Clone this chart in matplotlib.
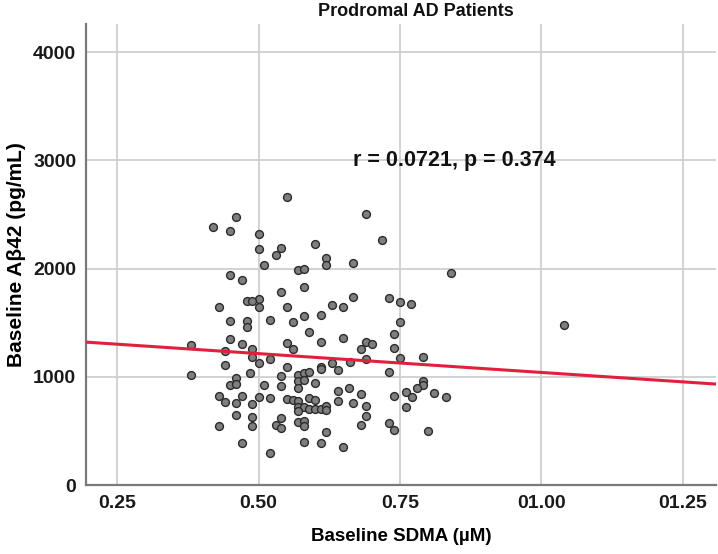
import matplotlib
matplotlib.use("Agg")
import matplotlib.pyplot as plt
import numpy as np

plt.rcParams["font.family"] = ["Liberation Sans", "DejaVu Sans"]

# Baseline SDMA (uM) vs baseline Abeta42 (pg/mL)
sdma = [
    0.420, 0.450, 0.460, 0.500, 0.500, 0.510, 0.530, 0.540, 0.550, 0.600,
    0.570, 0.580, 0.620, 0.620, 0.667, 0.450, 0.470, 0.690, 0.719, 0.840,
    0.430, 0.479, 0.540, 0.580, 0.500, 0.489, 0.500, 0.550, 0.630, 0.650,
    0.667, 0.731, 0.750, 0.769, 0.450, 0.479, 0.479, 0.450, 0.470, 0.380,
    0.441, 0.441, 0.380, 0.460, 0.450, 0.460, 0.430, 0.441, 0.460, 0.470,
    0.460, 0.430, 0.470, 0.485, 0.489, 0.489, 0.489, 0.520, 0.560, 0.580,
    0.610, 0.590, 0.610, 0.650, 0.550, 0.560, 0.489, 0.489, 0.500, 0.520,
    0.550, 0.540, 0.570, 0.580, 0.590, 0.610, 0.610, 0.630, 0.641, 0.662,
    0.570, 0.580, 0.600, 0.540, 0.510, 0.570, 0.640, 0.660, 0.500, 0.520,
    0.550, 0.560, 0.570, 0.590, 0.600, 0.640, 0.667, 0.570, 0.580, 0.590,
    0.600, 0.610, 0.620, 0.620, 0.570, 0.540, 0.530, 0.540, 0.570, 0.580,
    0.580, 0.620, 0.580, 0.610, 0.650, 0.520, 0.750, 0.740, 0.690, 0.701,
    0.681, 0.740, 0.690, 0.750, 0.790, 0.731, 0.790, 0.790, 0.780, 0.761,
    0.771, 0.740, 0.810, 0.831, 0.681, 0.690, 0.761, 0.690, 0.681, 0.731,
    0.740, 0.800, 1.040,
]
abeta42 = [
    2380, 2350, 2480, 2320, 2185, 2035, 2123, 2190, 2660, 2222,
    1984, 1994, 2095, 2031, 2052, 1936, 1892, 2501, 2261, 1957,
    1646, 1698, 1784, 1828, 1723, 1701, 1646, 1646, 1661, 1646,
    1738, 1729, 1692, 1671, 1511, 1517, 1461, 1350, 1299, 1292,
    1240, 1108, 1018, 990, 920, 932, 824, 763, 757, 819,
    649, 547, 390, 1037, 748, 630, 545, 1529, 1507, 1566,
    1572, 1415, 1323, 1354, 1308, 1258, 1253, 1179, 1129, 1166,
    1086, 1006, 1015, 1031, 1043, 1092, 1068, 1129, 1061, 1138,
    963, 969, 939, 914, 920, 893, 870, 893, 815, 806,
    797, 785, 775, 806, 785, 778, 754, 717, 717, 699,
    701, 701, 729, 692, 683, 618, 551, 526, 584, 593,
    545, 492, 400, 385, 354, 298, 1507, 1391, 1323, 1299,
    1255, 1262, 1166, 1169, 1179, 1043, 960, 923, 893, 861,
    809, 821, 846, 815, 843, 729, 720, 634, 554, 570,
    508, 498, 1477,
]

# fitted line as drawn in the figure
fit_intercept = 1388
fit_slope = -348

xticks = [0.25, 0.50, 0.75, 1.00, 1.25]
xticklabels = ["0.25", "0.50", "0.75", "01.00", "01.25"]
yticks = [0, 1000, 2000, 3000, 4000]

fig = plt.figure(figsize=(7.18, 5.54), dpi=100)
ax = fig.add_axes([0.1198, 0.1245, 0.877, 0.832])

xmin, xmax = 0.195, 1.308
ax.set_xlim(xmin, xmax)
ax.set_ylim(0, 4258)

ax.scatter(sdma, abeta42, s=32, facecolor="#7f7f7f", edgecolor="#2b2b2b",
           linewidth=1.0, zorder=3)

xs = np.array([xmin, xmax])
ax.plot(xs, fit_intercept + fit_slope * xs, color="#e0203c", lw=2.2, zorder=4)

ax.set_xticks(xticks)
ax.set_xticklabels(xticklabels)
ax.set_yticks(yticks)
ax.tick_params(length=0, labelsize=14, pad=7)
for lab in ax.get_xticklabels() + ax.get_yticklabels():
    lab.set_fontweight("bold")
    lab.set_color("#1a1a1a")

ax.grid(True, color="#cfcfcf", lw=1.3, zorder=0)
ax.set_axisbelow(True)
for side in ["top", "right"]:
    ax.spines[side].set_visible(False)
for side in ["left", "bottom"]:
    ax.spines[side].set_color("#7a7a7a")
    ax.spines[side].set_linewidth(1.6)

ax.set_xlabel("Baseline SDMA (µM)", fontsize=13.5, fontweight="bold", labelpad=12)
ax.set_ylabel("Baseline Aβ42 (pg/mL)", fontsize=15, fontweight="bold", labelpad=5)

ax.text(0.667, 3000, "r = 0.0721, p = 0.374", fontsize=15.5, fontweight="bold",
        ha="left", va="center", color="#111111")

fig.text(416 / 718, 1 - 11 / 554, "Prodromal AD Patients", fontsize=13,
         fontweight="bold", ha="center", va="center", color="#111111")

fig.savefig("out.png", dpi=100)
